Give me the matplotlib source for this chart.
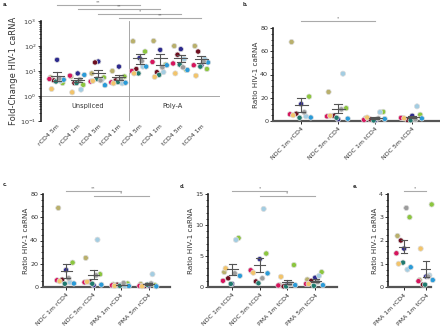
import numpy as np
import matplotlib
matplotlib.use("Agg")
import matplotlib.pyplot as plt
from matplotlib.ticker import MultipleLocator, LogLocator, NullFormatter

# donor colours (same order in every group)
donor_colors = ['#2d2a8e', '#b9b06c', '#8cc63f', '#6e0e1f', '#d6145c',
                '#a3cde2', '#2a9bd8', '#1f7a6e', '#9c9c9c', '#f2c46b']

# panel a: fold change (log scale)
a_labels = ['rCD4 5m', 'rCD4 1m', 'tCD4 5m', 'tCD4 1m',
            'rCD4 5m', 'rCD4 1m', 'tCD4 5m', 'tCD4 1m']
a_values = [
    [28, 5.5, 3.3, 4.2, 4.8, 4.0, 4.5, 3.8, 5.0, 1.9],
    [8.0, 6.0, 2.8, 3.3, 6.5, 1.8, 7.0, 3.3, 4.5, 1.4],
    [24, 8.0, 5.5, 22, 3.8, 4.5, 2.7, 4.8, 4.2, 4.0],
    [15, 10, 6.0, 4.2, 3.5, 3.2, 3.4, 3.6, 4.8, 3.2],
    [33, 155, 60, 12, 10, 15, 15, 8, 25, 8],
    [70, 160, 18, 9, 23, 9, 17, 7, 14, 5.8],
    [75, 100, 11, 45, 20, 30, 11, 18, 14, 8],
    [17, 100, 12, 60, 17, 30, 22, 15, 24, 6.5],
]
a_sig = [(0, 4, '**'), (1, 5, '**'), (2, 6, '*'), (3, 7, '**')]

# shared groups
ndc1_r = [14.6, 68, 21, 6.3, 5.8, 4.0, 3.0, 2.8, 7.5, 4.9]
ndc5_r = [1.5, 25, 11, 4.5, 4.0, 40.7, 2.0, 2.8, 10, 4.5]
ndc1_t = [0.5, 2.4, 7.9, 1.4, 1.0, 7.6, 1.8, 0.5, 2.2, 3.0]
ndc5_t = [4.5, 2.5, 5.4, 0.9, 2.7, 12.6, 2.2, 0.6, 1.4, 2.3]
pma1_r = [1.65, 2.2, 3.0, 2.0, 1.45, 0.75, 0.85, 1.05, 3.4, 1.0]
pma5_r = [1.2, 2.5, 1.5, 0.8, 1.0, 11, 0.5, 2.0, 3.0, 0.6]
pma1_t = [0.45, 0.3, 3.55, 0.1, 0.25, 0.5, 0.3, 0.1, 0.45, 1.65]
pma5_t = [1.5, 1.2, 2.4, 1.0, 0.5, 1.8, 0.3, 0.2, 0.8, 0.5]

b_labels = ['NDC 1m rCD4', 'NDC 5m rCD4', 'NDC 1m tCD4', 'NDC 5m tCD4']
b_values = [ndc1_r, ndc5_r, ndc1_t, ndc5_t]
c_labels = ['NDC 1m rCD4', 'NDC 5m rCD4', 'PMA 1m rCD4', 'PMA 5m rCD4']
c_values = [ndc1_r, ndc5_r, pma1_r, pma5_r]
d_labels = ['NDC 1m tCD4', 'NDC 5m tCD4', 'PMA 1m tCD4', 'PMA 5m tCD4']
d_values = [ndc1_t, ndc5_t, pma1_t, pma5_t]
e_labels = ['PMA 1m rCD4', 'PMA 1m tCD4']
e_values = [pma1_r, pma1_t]

# horizontal jitter in pixels per donor
jitter_px = np.array([0, -6, 5, -3, -7, 3, 6, -1, 2, -5])

W, H = 440, 326
fig = plt.figure(figsize=(4.4, 3.26), dpi=100)
txt = '#333333'


def axes_px(left, top, right, bottom):
    return fig.add_axes([left / W, (H - bottom) / H, (right - left) / W, (bottom - top) / H])


def strip(ax, groups, xlim, width_px, bar_px, cap_px, spread=1.0):
    ax.set_xlim(*xlim)
    px_unit = width_px / (xlim[1] - xlim[0])
    for i, vals in enumerate(groups):
        vals = np.array(vals, dtype=float)
        xs = i + spread * jitter_px / px_unit
        ax.scatter(xs, vals, s=14, c=donor_colors, edgecolors='#dcdcdc',
                   linewidths=0.5, zorder=3, clip_on=False)
        m = vals.mean()
        sem = vals.std(ddof=1) / np.sqrt(len(vals))
        hw = bar_px / 2 / px_unit
        cw = cap_px / 2 / px_unit
        ax.plot([i - hw, i + hw], [m, m], color='#555555', lw=0.8, zorder=4)
        ax.plot([i, i], [m - sem, m + sem], color='#555555', lw=0.8, zorder=4)
        for yv in (m - sem, m + sem):
            ax.plot([i - cw, i + cw], [yv, yv], color='#555555', lw=0.8, zorder=4)


def style(ax, labels, ylabel, bottom=True):
    for s in ('top', 'right'):
        ax.spines[s].set_visible(False)
    ax.spines['left'].set_linewidth(1.2)
    ax.spines['left'].set_color('#222222')
    if bottom:
        ax.spines['bottom'].set_linewidth(1.6)
        ax.spines['bottom'].set_color('#555555')
    else:
        ax.spines['bottom'].set_visible(False)
    ax.set_xticks(range(len(labels)))
    ax.set_xticklabels(labels, rotation=45, ha='right', rotation_mode='anchor',
                       fontsize=4.5, color=txt)
    ax.tick_params(axis='x', length=2 if bottom else 0, width=0.6, pad=2)
    ax.tick_params(axis='y', labelsize=4.6, length=2.5, width=0.7, pad=1, colors=txt)
    ax.tick_params(axis='y', which='minor', length=1.5, width=0.5)
    ax.set_ylabel(ylabel, fontsize=5.2, color=txt, labelpad=1)


def sig(ax, i, j, yfrac, label):
    tr = ax.get_xaxis_transform()
    ax.plot([i, j], [yfrac, yfrac], color='#aaaaaa', lw=0.8, transform=tr, clip_on=False)
    ax.text((i + j) / 2, yfrac + 0.005, label, fontsize=3.2, ha='center', va='bottom',
            color='#555555', transform=tr)


# panel a
ax = axes_px(41, 21, 220, 121)
strip(ax, a_values, (-0.78, 7.9), 179, 13, 8, spread=1.1)
ax.set_yscale('log')
ax.set_ylim(0.1, 1000)
ax.yaxis.set_major_locator(LogLocator(base=10, numticks=10))
ax.yaxis.set_minor_locator(LogLocator(base=10, subs=np.arange(2, 10), numticks=10))
ax.yaxis.set_minor_formatter(NullFormatter())
style(ax, a_labels, 'Fold-Change HIV-1 caRNA', bottom=False)
ax.set_ylabel('Fold-Change HIV-1 caRNA', fontsize=6, color=txt, labelpad=1)
ax.axhline(1, color='#999999', lw=0.6, zorder=1)
ax.axvline(3.5, color='#999999', lw=0.6, zorder=1)
ax.text(1.5, 0.4, 'Unspliced', fontsize=4.8, ha='center', va='center', color=txt)
ax.text(5.6, 0.4, 'Poly-A', fontsize=4.8, ha='center', va='center', color=txt)
for (i, j, lab), yf in zip(a_sig, [1.16, 1.12, 1.075, 1.035]):
    sig(ax, i, j, yf, lab)

# panel b
ax = axes_px(273, 28, 440, 121)
strip(ax, b_values, (-0.76, 3.75), 167, 13, 8, spread=1.6)
ax.set_ylim(0, 80)
ax.yaxis.set_major_locator(MultipleLocator(20))
ax.yaxis.set_minor_locator(MultipleLocator(5))
style(ax, b_labels, 'Ratio HIV-1 caRNA')
sig(ax, 0, 2, 1.075, '*')

# panel c
ax = axes_px(43, 194, 170, 287)
strip(ax, c_values, (-0.84, 3.78), 127, 11, 7, spread=1.3)
ax.set_ylim(0, 80)
ax.yaxis.set_major_locator(MultipleLocator(20))
ax.yaxis.set_minor_locator(MultipleLocator(5))
style(ax, c_labels, 'Ratio HIV-1 caRNA')
sig(ax, 0, 2, 1.032, '**')
sig(ax, 1, 3, 0.978, '*')

# panel d
ax = axes_px(208, 194, 337, 287)
strip(ax, d_values, (-0.87, 3.79), 129, 11, 7, spread=1.3)
ax.set_ylim(0, 15)
ax.yaxis.set_major_locator(MultipleLocator(5))
ax.yaxis.set_minor_locator(MultipleLocator(1))
style(ax, d_labels, 'Ratio HIV-1 caRNA')
sig(ax, 0, 2, 1.032, '*')
sig(ax, 1, 3, 0.978, '*')

# panel e
ax = axes_px(388, 194, 431, 287)
strip(ax, e_values, (-0.73, 1.22), 43, 10, 6, spread=1.1)
ax.set_ylim(0, 4)
ax.yaxis.set_major_locator(MultipleLocator(1))
ax.yaxis.set_minor_locator(MultipleLocator(0.25))
style(ax, e_labels, 'Ratio HIV-1 caRNA')
sig(ax, 0, 1, 1.032, '*')

# panel letters
for lab, x, y in [('a.', 3, 5), ('b.', 243, 5), ('c.', 3, 184), ('d.', 180, 186), ('e.', 353, 187)]:
    fig.text(x / W, 1 - y / H, lab, fontsize=3.6, fontweight='bold', color=txt,
             ha='left', va='center')

fig.savefig('out.png', dpi=100)
